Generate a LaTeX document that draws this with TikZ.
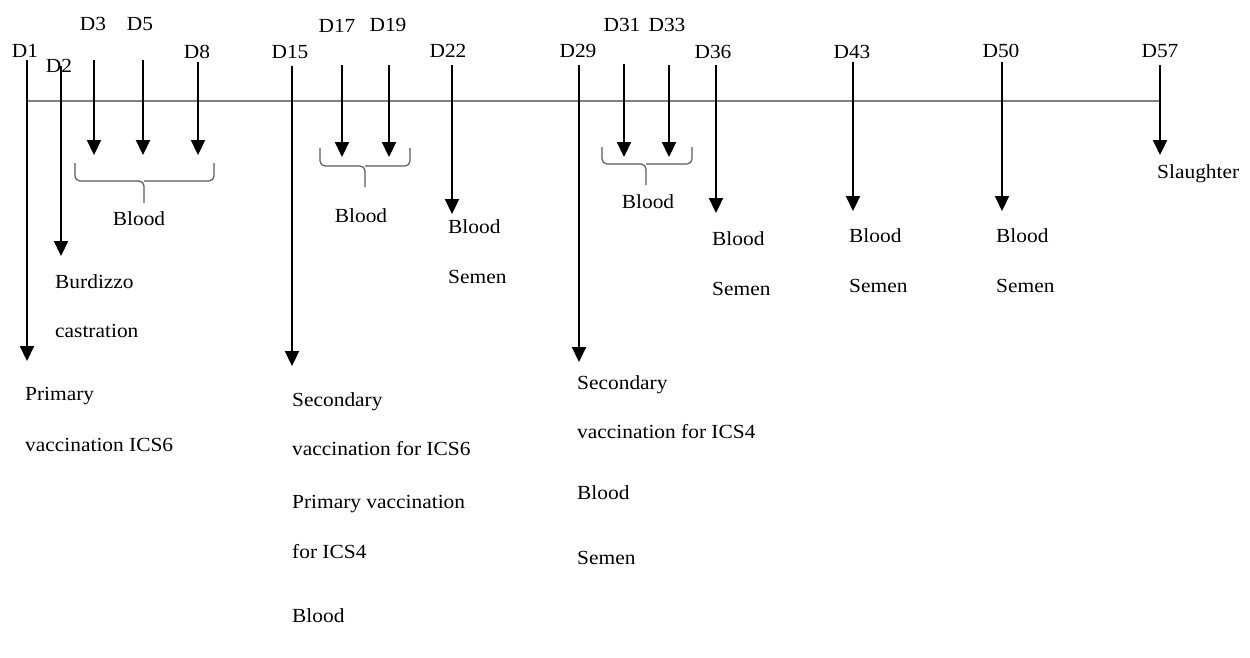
\documentclass[tikz,border=0pt]{standalone}
\usepackage{fontspec}
\setmainfont[FakeStretch=1.07]{Liberation Serif}
\usetikzlibrary{arrows.meta}
\tikzset{
  lab/.style={anchor=base, inner sep=0pt, font=\fontsize{20}{24}\selectfont},
  txt/.style={anchor=base west, inner sep=0pt, font=\fontsize{20}{24}\selectfont},
  ctxt/.style={anchor=base, inner sep=0pt, font=\fontsize{20}{24}\selectfont},
  arr/.style={line width=2.2pt, -{Triangle[width=14pt,length=15pt]}},
  axisline/.style={line width=2.6pt, draw=black!50},
  brc/.style={line width=1.2pt, draw=black!65, rounded corners=5pt},
}
\begin{document}
\begin{tikzpicture}[x=1pt,y=-1pt]
\useasboundingbox (0,0) rectangle (1250,657);
% axis
\coordinate (ax0) at (27,101);
\coordinate (ax1) at (1160,101);
\draw[axisline] (ax0) -- (ax1);

% day labels
\node[lab] (d1)  at (25,57)   {D1};
\node[lab] (d2)  at (59,72)   {D2};
\node[lab] (d3)  at (93,30)   {D3};
\node[lab] (d5)  at (140,30)  {D5};
\node[lab] (d8)  at (197,58)  {D8};
\node[lab] (d15) at (290,58)  {D15};
\node[lab] (d17) at (337,32)  {D17};
\node[lab] (d19) at (388,31)  {D19};
\node[lab] (d22) at (448,57)  {D22};
\node[lab] (d29) at (578,57)  {D29};
\node[lab] (d31) at (622,31)  {D31};
\node[lab] (d33) at (667,31)  {D33};
\node[lab] (d36) at (713,58)  {D36};
\node[lab] (d43) at (852,58)  {D43};
\node[lab] (d50) at (1001,57) {D50};
\node[lab] (d57) at (1160,57) {D57};

% arrow end points
\coordinate (s1)  at (27,60);   \coordinate (e1)  at (27,361);
\coordinate (s2)  at (61,66);   \coordinate (e2)  at (61,256);
\coordinate (s3)  at (94,60);   \coordinate (e3)  at (94,155);
\coordinate (s5)  at (143,60);  \coordinate (e5)  at (143,155);
\coordinate (s8)  at (198,62);  \coordinate (e8)  at (198,155);
\coordinate (s15) at (292,66);  \coordinate (e15) at (292,366);
\coordinate (s17) at (342,65);  \coordinate (e17) at (342,157);
\coordinate (s19) at (389,65);  \coordinate (e19) at (389,157);
\coordinate (s22) at (452,65);  \coordinate (e22) at (452,214);
\coordinate (s29) at (579,65);  \coordinate (e29) at (579,362);
\coordinate (s31) at (624,64);  \coordinate (e31) at (624,157);
\coordinate (s33) at (669,65);  \coordinate (e33) at (669,157);
\coordinate (s36) at (716,65);  \coordinate (e36) at (716,213);
\coordinate (s43) at (853,62);  \coordinate (e43) at (853,211);
\coordinate (s50) at (1002,62); \coordinate (e50) at (1002,211);
\coordinate (s57) at (1160,65); \coordinate (e57) at (1160,155);

\foreach \k in {1,2,3,5,8,15,17,19,22,29,31,33,36,43,50,57}
  \draw[arr] (s\k) -- (e\k);

% braces
\draw[brc] (75,163) |- (144,181) -- (144,203);
\draw[brc] (214,163) |- (144,181);
\draw[brc] (320,148) |- (365,166) -- (365,187);
\draw[brc] (410,148) |- (365,166);
\draw[brc] (602,147) |- (646,164) -- (646,185);
\draw[brc] (692,147) |- (646,164);

\node[ctxt] (bl1) at (139,225) {Blood};
\node[ctxt] (bl2) at (361,222) {Blood};
\node[ctxt] (bl3) at (648,208) {Blood};

% D1
\node[txt] (t1a) at (25,400) {Primary};
\node[txt] (t1b) at (25,451) {vaccination ICS6};
% D2
\node[txt] (t2a) at (55,288) {Burdizzo};
\node[txt] (t2b) at (55,337) {castration};
% D15
\node[txt] (t15a) at (292,406) {Secondary};
\node[txt] (t15b) at (292,455) {vaccination for ICS6};
\node[txt] (t15c) at (292,508) {Primary vaccination};
\node[txt] (t15d) at (292,558) {for ICS4};
\node[txt] (t15e) at (292,622) {Blood};
% D22
\node[txt] (t22a) at (448,233) {Blood};
\node[txt] (t22b) at (448,283) {Semen};
% D29
\node[txt] (t29a) at (577,389) {Secondary};
\node[txt] (t29b) at (577,438) {vaccination for ICS4};
\node[txt] (t29c) at (577,499) {Blood};
\node[txt] (t29d) at (577,564) {Semen};
% D36
\node[txt] (t36a) at (712,245) {Blood};
\node[txt] (t36b) at (712,295) {Semen};
% D43
\node[txt] (t43a) at (849,242) {Blood};
\node[txt] (t43b) at (849,292) {Semen};
% D50
\node[txt] (t50a) at (996,242) {Blood};
\node[txt] (t50b) at (996,292) {Semen};
% D57
\node[txt] (t57a) at (1157,178) {Slaughter};
\end{tikzpicture}
\end{document}
